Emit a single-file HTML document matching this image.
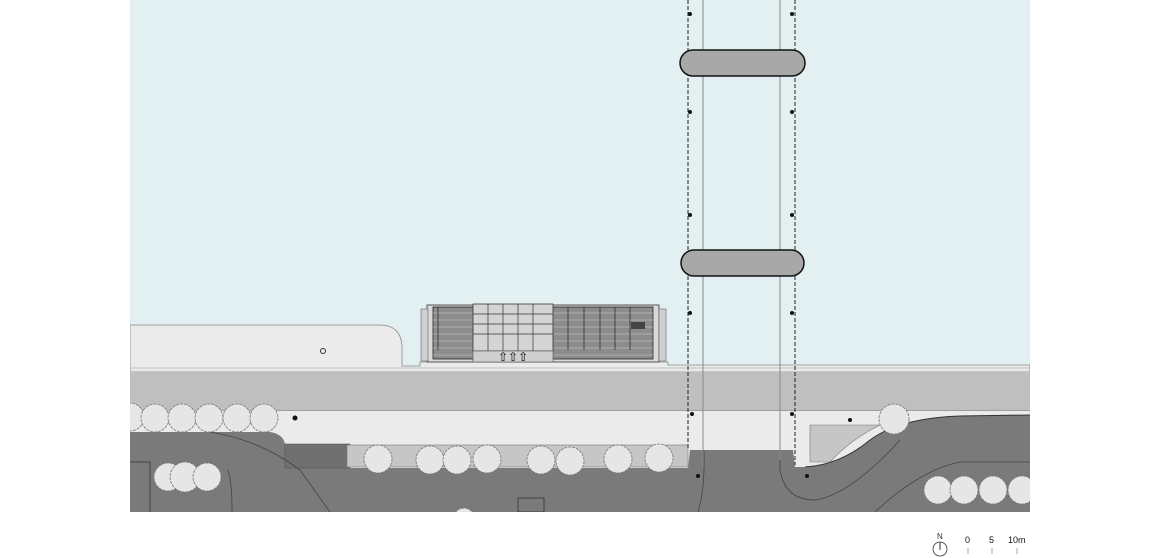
<!DOCTYPE html>
<html><head><meta charset="utf-8"><style>
html,body{margin:0;padding:0;background:#fff;width:1160px;height:558px;overflow:hidden}
svg{display:block}
text{font-family:"Liberation Sans",sans-serif}
</style></head><body>
<svg width="1160" height="558" viewBox="0 0 1160 558" xmlns="http://www.w3.org/2000/svg">
<defs><clipPath id="c"><rect x="130" y="0" width="900" height="512"/></clipPath></defs>
<g clip-path="url(#c)">
<rect x="130" y="0" width="900" height="512" fill="#e2f0f2"/>
<!-- quay left -->
<path d="M130 325 L380 325 Q400 325 402 345 L402 366 L420 366 L420 362 L668 362 L668 365 L1030 365 L1030 372 L130 372 Z" fill="#ebebeb" stroke="#888" stroke-width="0.8"/>
<line x1="130" y1="368" x2="1030" y2="368" stroke="#999" stroke-width="0.6"/>
<!-- band -->
<rect x="130" y="372" width="900" height="39" fill="#bfbfbf"/>
<line x1="130" y1="411" x2="1030" y2="411" stroke="#666" stroke-width="0.7"/>
<!-- light strip -->
<rect x="130" y="411" width="900" height="101" fill="#ebebeb"/>
<!-- dark road areas -->
<path d="M130 432 L270 432 Q283 434 285 444 L350 444 L350 468 L688 468 L690 450 L793 450 L795 467 L805 467 Q840 465 870 440 Q900 418 960 416 L1030 415 L1030 512 L130 512 Z" fill="#7a7a7a"/>
<rect x="285" y="444" width="65" height="24" fill="#707070" stroke="#555" stroke-width="0.6"/>
<path d="M210 432 Q260 440 300 470 L330 512" stroke="#444" stroke-width="0.8" fill="none"/>
<path d="M130 462 L150 462 L150 512" stroke="#555" stroke-width="1.5" fill="none"/>
<path d="M228 470 Q232 480 232 512" stroke="#444" stroke-width="0.8" fill="none"/>
<path d="M704 450 Q705 490 698 512" stroke="#444" stroke-width="0.8" fill="none"/>
<path d="M780 450 L780 470 Q785 500 815 500 Q850 495 900 440" stroke="#444" stroke-width="0.8" fill="none"/>
<path d="M875 512 Q920 470 960 462 L1030 462" stroke="#444" stroke-width="0.8" fill="none"/>
<!-- planters -->
<rect x="347" y="445" width="341" height="22" fill="#c6c6c6" stroke="#777" stroke-width="0.6"/>
<path d="M810 425 L880 425 Q850 440 830 462 L810 462 Z" fill="#c6c6c6" stroke="#777" stroke-width="0.6"/>
<path d="M805 467 Q840 465 870 440 Q900 418 960 416 L1030 415" stroke="#333" stroke-width="1" fill="none"/>
<rect x="518" y="498" width="26" height="14" fill="none" stroke="#333" stroke-width="0.8"/>
<!-- trees -->
<g fill="#e6e6e6" stroke="#777" stroke-width="0.8" stroke-dasharray="3 1">
<circle cx="130" cy="417" r="14"/><circle cx="155" cy="418" r="14"/><circle cx="182" cy="418" r="14"/><circle cx="209" cy="418" r="14"/><circle cx="237" cy="418" r="14"/><circle cx="264" cy="418" r="14"/>
<circle cx="168" cy="477" r="14"/><circle cx="185" cy="477" r="15"/><circle cx="207" cy="477" r="14"/>
<circle cx="378" cy="459" r="14"/><circle cx="430" cy="460" r="14"/><circle cx="457" cy="460" r="14"/><circle cx="487" cy="459" r="14"/>
<circle cx="541" cy="460" r="14"/><circle cx="570" cy="461" r="14"/><circle cx="618" cy="459" r="14"/><circle cx="659" cy="458" r="14"/>
<circle cx="894" cy="419" r="15"/>
<circle cx="938" cy="490" r="14"/><circle cx="964" cy="490" r="14"/><circle cx="993" cy="490" r="14"/><circle cx="1022" cy="490" r="14"/>
<circle cx="464" cy="518" r="10"/>
</g>
<!-- building -->
<rect x="427" y="305" width="232" height="57" fill="#d9d9d9" stroke="#555" stroke-width="1"/>
<rect x="433" y="307" width="220" height="52" fill="#8c8c8c" stroke="#222" stroke-width="0.8"/>
<g stroke="#cfcfcf" stroke-width="0.6">
<line x1="433" y1="313" x2="653" y2="313"/><line x1="433" y1="320" x2="653" y2="320"/><line x1="433" y1="327" x2="653" y2="327"/><line x1="433" y1="334" x2="653" y2="334"/><line x1="433" y1="341" x2="653" y2="341"/><line x1="433" y1="348" x2="653" y2="348"/><line x1="433" y1="355" x2="653" y2="355"/>
</g>
<g stroke="#222" stroke-width="0.7"><line x1="438" y1="307" x2="438" y2="350"/><line x1="568" y1="307" x2="568" y2="350"/><line x1="584" y1="307" x2="584" y2="350"/><line x1="600" y1="307" x2="600" y2="350"/><line x1="615" y1="307" x2="615" y2="350"/><line x1="630" y1="307" x2="630" y2="350"/></g>
<rect x="473" y="304" width="80" height="47" fill="#d4d4d4" stroke="#333" stroke-width="0.8"/>
<g stroke="#333" stroke-width="0.7"><line x1="488" y1="304" x2="488" y2="351"/><line x1="503" y1="304" x2="503" y2="351"/><line x1="518" y1="304" x2="518" y2="351"/><line x1="533" y1="304" x2="533" y2="351"/><line x1="473" y1="314" x2="553" y2="314"/><line x1="473" y1="324" x2="553" y2="324"/><line x1="473" y1="334" x2="553" y2="334"/></g>
<rect x="473" y="351" width="80" height="11" fill="#cfcfcf" stroke="#555" stroke-width="0.6"/>
<text x="498" y="361" font-size="12" fill="#000">⇧⇧⇧</text>
<rect x="631" y="322" width="14" height="7" fill="#444"/>
<rect x="421" y="309" width="7" height="52" fill="#d0d0d0" stroke="#666" stroke-width="0.6"/>
<rect x="659" y="309" width="7" height="52" fill="#d0d0d0" stroke="#666" stroke-width="0.6"/>
<circle cx="323" cy="351" r="2.5" fill="none" stroke="#333"/>
<!-- bridge -->
<line x1="703" y1="0" x2="703" y2="470" stroke="#888" stroke-width="1"/>
<line x1="780" y1="0" x2="780" y2="460" stroke="#888" stroke-width="1"/>
<line x1="688" y1="0" x2="688" y2="450" stroke="#222" stroke-width="1" stroke-dasharray="4 2"/>
<line x1="795" y1="0" x2="795" y2="465" stroke="#222" stroke-width="1" stroke-dasharray="4 2"/>
<rect x="680" y="50" width="125" height="26" rx="13" fill="#a8a8a8" stroke="#111" stroke-width="1.5"/>
<rect x="681" y="250" width="123" height="26" rx="13" fill="#a8a8a8" stroke="#111" stroke-width="1.5"/>
<g fill="#111">
<circle cx="690" cy="14" r="2"/><circle cx="792" cy="14" r="2"/><circle cx="690" cy="112" r="2"/><circle cx="792" cy="112" r="2"/>
<circle cx="690" cy="215" r="2"/><circle cx="792" cy="215" r="2"/><circle cx="690" cy="313" r="2"/><circle cx="792" cy="313" r="2"/>
<circle cx="692" cy="414" r="2"/><circle cx="792" cy="414" r="2"/><circle cx="295" cy="418" r="2.5"/><circle cx="850" cy="420" r="2"/>
<circle cx="807" cy="476" r="2"/><circle cx="698" cy="476" r="2"/>
</g>
</g>
<!-- scale -->
<circle cx="940" cy="549" r="7" fill="none" stroke="#333" stroke-width="0.8"/>
<line x1="940" y1="542" x2="940" y2="550" stroke="#333"/>
<text x="937" y="539" font-size="8" fill="#333">N</text>
<text x="965" y="543" font-size="9" fill="#111">0</text>
<text x="989" y="543" font-size="9" fill="#111">5</text>
<text x="1008" y="543" font-size="9" fill="#111">10m</text>
<g stroke="#aaa"><line x1="968" y1="548" x2="968" y2="554"/><line x1="992" y1="548" x2="992" y2="554"/><line x1="1017" y1="548" x2="1017" y2="554"/></g>
</svg>
</body></html>
